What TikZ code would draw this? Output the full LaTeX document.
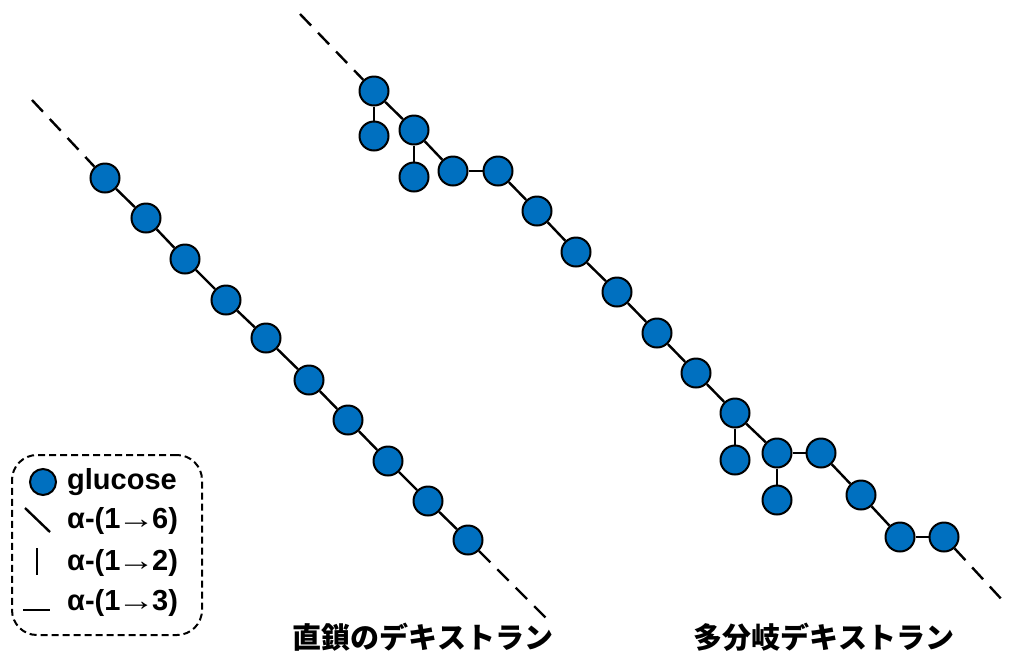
\documentclass[tikz,border=0pt]{standalone}
\usepackage{fontspec}
\usepackage{graphicx}
\setmainfont{Liberation Sans}
\newfontfamily\cjk{Noto Sans CJK JP}
\definecolor{glu}{HTML}{0070C0}
\newcommand{\thinarr}{\hspace{-3pt}\scalebox{1.3}[1]{\mdseries →}\hspace{-3pt}}
\begin{document}
\begin{tikzpicture}[x=1pt,y=-1pt,
  glc/.style={circle,draw=black,line width=2pt,fill=glu,minimum size=29pt,inner sep=0pt},
  bond/.style={line width=2.4pt,black},
  dsh/.style={line width=2.4pt,black,dash pattern=on 16pt off 10pt},
  legtxt/.style={anchor=west,font=\bfseries\fontsize{29}{31}\selectfont,inner sep=0pt},
  lbl/.style={font=\cjk\bfseries\fontsize{29}{32}\selectfont,inner sep=0pt}]
\useasboundingbox (0,0) rectangle (1011,657);
% linear dextran
\coordinate (ls) at (32,100);
\coordinate (le) at (548,620);
\foreach \i/\x/\y in {1/105/178,2/146/218,3/185/259,4/226/300,5/266/338,6/309/380,7/348/420,8/388/461,9/428/501,10/468/540}
  \node[glc] (l\i) at (\x,\y) {};
\draw[dsh] (ls) -- (l1);
\foreach \a/\b in {1/2,2/3,3/4,4/5,5/6,6/7,7/8,8/9,9/10}
  \draw[bond] (l\a) -- (l\b);
\draw[dsh] (l10) -- (le);
% branched dextran
\coordinate (bs) at (300,14);
\coordinate (be) at (1005,603);
\foreach \i/\x/\y in {1/374/91,2/414/130,3/453/171,4/498/171,5/537/211,6/576/252,7/617/292,8/657/333,9/696/373,10/735/413,11/777/453,12/821/453,13/861/495,14/900/537,15/944/537}
  \node[glc] (b\i) at (\x,\y) {};
\node[glc] (c1) at (374,136) {};
\node[glc] (c2) at (414,177) {};
\node[glc] (c3) at (735,460) {};
\node[glc] (c4) at (777,500) {};
\draw[dsh] (bs) -- (b1);
\foreach \a/\b in {1/2,2/3,3/4,4/5,5/6,6/7,7/8,8/9,9/10,10/11,11/12,12/13,13/14,14/15}
  \draw[bond] (b\a) -- (b\b);
\draw[bond] (b1) -- (c1);
\draw[bond] (b2) -- (c2);
\draw[bond] (b10) -- (c3);
\draw[bond] (b11) -- (c4);
\draw[dsh] (b15) -- (be);
% legend
\node[draw=black,line width=2pt,dash pattern=on 7pt off 4pt,rounded corners=25pt,minimum width=190pt,minimum height=180pt,inner sep=0pt] (leg) at (107,545) {};
\node[glc,minimum size=26pt] (lg) at (43,482) {};
\node[legtxt] (t1) at (67,482) {glucose};
\coordinate (a1) at (25,508); \coordinate (a2) at (50,532);
\draw[bond] (a1) -- (a2);
\node[legtxt] (t2) at (67,521) {α-(1\thinarr6)};
\coordinate (v1) at (37,548); \coordinate (v2) at (37,575);
\draw[bond] (v1) -- (v2);
\node[legtxt] (t3) at (67,563) {α-(1\thinarr2)};
\coordinate (h1) at (23,610); \coordinate (h2) at (50,610);
\draw[bond] (h1) -- (h2);
\node[legtxt] (t4) at (67,603) {α-(1\thinarr3)};
% labels
\node[lbl] (L1) at (423,637) {直鎖のデキストラン};
\node[lbl] (L2) at (824,637) {多分岐デキストラン};
\end{tikzpicture}
\end{document}
